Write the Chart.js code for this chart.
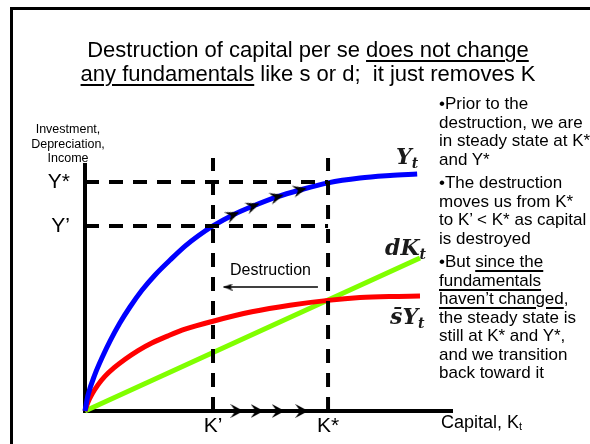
<!DOCTYPE html>
<html>
<head>
<meta charset="utf-8">
<script src="https://cdn.jsdelivr.net/npm/chart.js@4.4.1/dist/chart.umd.min.js"></script>
<style>
  html, body { margin: 0; padding: 0; background: #fff; }
  body { width: 590px; height: 444px; position: relative; overflow: hidden;
         font-family: "Liberation Sans", Arial, sans-serif; color: #000; }
  .frame { position: absolute; left: 10px; top: 7px; width: 700px; height: 600px;
           border-top: 3px solid #000; border-left: 3px solid #000; }
  #chart { position: absolute; left: 0; top: 0; }
  .t { position: absolute; white-space: pre; }
  .u { text-decoration: underline; text-decoration-thickness: 1.5px; text-underline-offset: 3px; }
  .title { left: 0; width: 616px; top: 38px; text-align: center; font-size: 22px; line-height: 24px; }
  .ylab { left: 8px; width: 120px; top: 122px; text-align: center; font-size: 12.5px; line-height: 14.5px; }
  .xlab { left: 441px; top: 412px; font-size: 18px; line-height: 20px; }
  .xlab sub { font-size: 11px; vertical-align: -2px; }
  .notes { left: 439px; top: 95px; font-size: 17px; line-height: 18.5px; }
  .notes p { margin: 0 0 5px 0; }
  .destr { left: 230px; top: 260px; font-size: 16px; line-height: 20px; }
  .math { font-family: "DejaVu Serif", serif; font-style: italic; font-weight: bold;
          font-size: 22px; line-height: 24px; color: #1a1a1a; }
  .math sub { font-size: 14px; vertical-align: -4px; }
</style>
</head>
<body>
<div class="frame"></div>
<canvas id="chart" width="590" height="444"></canvas>

<div class="t title">Destruction of capital per se <span class="u">does not change</span>
<span class="u">any fundamentals</span> like s or d;  it just removes K</div>

<div class="t ylab">Investment,
Depreciation,
Income</div>

<div class="t notes"><p>•Prior to the
destruction, we are
in steady state at K*
and Y*</p><p>•The destruction
moves us from K*
to K’ &lt; K* as capital
is destroyed</p><p>•But <span class="u">since the</span>
<span class="u">fundamentals</span>
<span class="u">haven’t changed</span>,
the steady state is
still at K* and Y*,
and we transition
back toward it</p></div>

<div class="t xlab">Capital, K<sub>t</sub></div>
<div class="t destr">Destruction</div>

<div class="t math" style="left:396px; top:144px;">Y<sub>t</sub></div>
<div class="t math" style="left:385px; top:235px;">dK<sub>t</sub></div>
<div class="t math" style="left:390px; top:304px;">s̄Y<sub>t</sub></div>

<script>
// values: x in units of capital, y in units of income
const kPrime = 3.16, kStar = 6.0;
const yPrime = 8.08, yStar = 10.0;
const kMax = 9.06, yMax = 10.74, guideTop = 11.05;

const outputK = [0, 0.07, 0.25, 0.44, 0.62, 0.86, 1.11, 1.41, 1.73, 2.1, 2.47, 2.79, 3.16, 3.65, 4.15, 4.74, 5.31, 6.0, 6.79, 7.53, 8.2];
const outputY = [0, 0.66, 1.62, 2.4, 3.06, 3.84, 4.54, 5.28, 5.94, 6.59, 7.2, 7.64, 8.08, 8.56, 8.95, 9.35, 9.65, 9.96, 10.17, 10.28, 10.35];
const savingK = [0, 0.07, 0.17, 0.32, 0.49, 0.72, 0.99, 1.31, 1.65, 2.05, 2.47, 3.16, 4.12, 5.06, 6.0, 6.79, 7.53, 8.27];
const savingY = [0, 0.37, 0.73, 1.14, 1.51, 1.89, 2.26, 2.64, 2.97, 3.28, 3.57, 3.92, 4.33, 4.62, 4.83, 4.95, 5.0, 5.02];
const deprK = [0, 8.27];
const deprY = [0, 6.68];

const pathArrowK = [3.65, 4.15, 4.74, 5.31];
const pathArrowY = [8.56, 8.95, 9.35, 9.65];
const axisArrowK = [3.75, 4.25, 4.77, 5.35];
const destroyK = [5.75, 3.42];
const destroyY = [5.41, 5.41];

const yTickValues = [yPrime, yStar];
const yTickLabels = ["Y’", "Y*"];
const xTickValues = [kPrime, kStar];
const xTickLabels = ["K’", "K*"];

const pts = (xs, ys) => xs.map((x, i) => ({ x: x, y: ys[i] }));

// arrowhead bitmaps used as point styles (tip points to the right)
function arrowHead(len, wid, notch, tipAtCenter) {
  const c = document.createElement("canvas");
  c.width = tipAtCenter ? len * 2 : len;
  c.height = wid;
  const g = c.getContext("2d");
  g.fillStyle = "#000";
  g.beginPath();
  g.moveTo(len, wid / 2);
  g.lineTo(0, 0);
  g.lineTo(notch, wid / 2);
  g.lineTo(0, wid);
  g.closePath();
  g.fill();
  return c;
}
const pathHead = arrowHead(14, 12, 5, false);
const axisHead = arrowHead(13, 14, 5, false);
const smallHead = arrowHead(9, 7, 2, true);

// direction of the blue curve at each arrow, from the neighbouring data points
function tangentAngle(ctx) {
  if (ctx.dataIndex === undefined) return 0;
  const sx = ctx.chart.scales.x, sy = ctx.chart.scales.y;
  const k = pathArrowK[ctx.dataIndex];
  let i = outputK.findIndex(v => v > k);
  if (i < 1) i = outputK.length - 1;
  const dx = sx.getPixelForValue(outputK[i]) - sx.getPixelForValue(outputK[i - 1]);
  const dy = sy.getPixelForValue(outputY[i]) - sy.getPixelForValue(outputY[i - 1]);
  return Math.atan2(dy, dx) * 180 / Math.PI;
}

const dashed = (label, data) => ({
  label: label,
  data: data,
  borderColor: "#000",
  borderWidth: 4,
  borderDash: [14, 10],
  pointRadius: 0,
  clip: false
});

const curve = (label, data, color) => ({
  label: label,
  data: data,
  borderColor: color,
  borderWidth: 5,
  borderJoinStyle: "round",
  cubicInterpolationMode: "monotone",
  pointRadius: 0,
  clip: false
});

const tickFont = { family: "'Liberation Sans', Arial, sans-serif", size: 21 };

new Chart(document.getElementById("chart"), {
  type: "line",
  data: {
    datasets: [
      {
        label: "transition",
        data: pts(pathArrowK, pathArrowY),
        showLine: false,
        pointStyle: pathHead,
        pointRadius: 6,
        pointRotation: tangentAngle,
        clip: false
      },
      {
        label: "capital rebuilds",
        data: axisArrowK.map(k => ({ x: k, y: 0 })),
        showLine: false,
        pointStyle: axisHead,
        pointRadius: 6,
        clip: false
      },
      {
        label: "destruction",
        data: pts(destroyK, destroyY),
        borderColor: "#000",
        borderWidth: 1.5,
        pointStyle: smallHead,
        pointRadius: [0, 5],
        pointRotation: 180,
        clip: false
      },
      dashed("Y*", [{ x: 0, y: yStar }, { x: kStar, y: yStar }]),
      dashed("Y’", [{ x: 0, y: yPrime }, { x: kStar, y: yPrime }]),
      dashed("K’", [{ x: kPrime, y: 0 }, { x: kPrime, y: guideTop }]),
      dashed("K*", [{ x: kStar, y: 0 }, { x: kStar, y: guideTop }]),
      curve("Y_t", pts(outputK, outputY), "#0000ff"),
      curve("sY_t", pts(savingK, savingY), "#ff0000"),
      curve("dK_t", pts(deprK, deprY), "#80ff00")
    ]
  },
  options: {
    responsive: false,
    animation: false,
    events: [],
    layout: { autoPadding: false, padding: { left: 45, top: 165, right: 138, bottom: 0 } },
    plugins: { legend: { display: false }, tooltip: { enabled: false } },
    scales: {
      x: {
        type: "linear",
        min: 0,
        max: kMax,
        grid: { display: false, drawTicks: false },
        border: { display: true, width: 4, color: "#000" },
        afterBuildTicks: s => { s.ticks = xTickValues.map(v => ({ value: v })); },
        afterFit: s => { s.height = 33; },
        ticks: {
          autoSkip: false,
          maxRotation: 0,
          padding: 3,
          color: "#000",
          font: tickFont,
          callback: (v, i) => xTickLabels[i]
        }
      },
      y: {
        type: "linear",
        min: 0,
        max: yMax,
        grid: { display: false, drawTicks: false },
        border: { display: true, width: 4, color: "#000" },
        afterBuildTicks: s => { s.ticks = yTickValues.map(v => ({ value: v })); },
        afterFit: s => { s.width = 40; },
        ticks: {
          autoSkip: false,
          padding: 15,
          color: "#000",
          font: tickFont,
          callback: (v, i) => yTickLabels[i]
        }
      }
    }
  }
});
</script>
</body>
</html>
